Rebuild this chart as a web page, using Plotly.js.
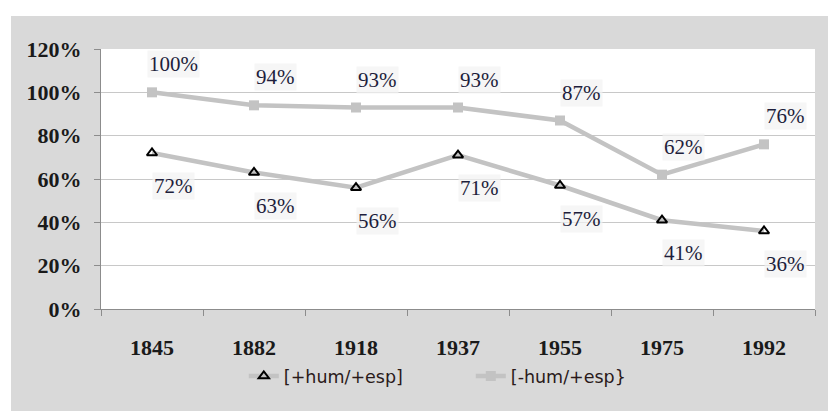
<!DOCTYPE html>
<html>
<head>
<meta charset="utf-8">
<script src="https://cdn.plot.ly/plotly-3.0.1.min.js"></script>
<style>
html, body { margin: 0; padding: 0; background: #ffffff; width: 828px; height: 411px; overflow: hidden; }
#chart { position: absolute; left: 11px; top: 16px; width: 817px; height: 395px; }
</style>
</head>
<body>
<div id="chart"></div>
<script>
const PCT = String.fromCharCode(37);
const years = ['1845', '1882', '1918', '1937', '1955', '1975', '1992'];
const plusHum = [72, 63, 56, 71, 57, 41, 36];
const minusHum = [100, 94, 93, 93, 87, 62, 76];
const seriesNames = ['[+hum/+esp]', '[-hum/+esp}'];
const yTicks = [0, 20, 40, 60, 80, 100, 120];

const lineGrey = '#c3c3c3';
const labelColor = '#1e1e3c';
const serif = '"Liberation Serif", "DejaVu Serif", serif';

const traces = [
  {
    x: years, y: plusHum, name: seriesNames[0], type: 'scatter', mode: 'lines+markers',
    line: { color: lineGrey, width: 4.5 },
    marker: { symbol: 'triangle-up-open', size: 9, color: '#000000', line: { color: '#000000', width: 2 } },
    hoverinfo: 'skip'
  },
  {
    x: years, y: minusHum, name: seriesNames[1], type: 'scatter', mode: 'lines+markers',
    line: { color: lineGrey, width: 4.5 },
    marker: { symbol: 'square', size: 10, color: lineGrey },
    hoverinfo: 'skip'
  }
];

const annotations = [];
years.forEach((yr, i) => {
  annotations.push({
    x: i, y: minusHum[i], xref: 'x', yref: 'y', text: String(minusHum[i]) + PCT, showarrow: false,
    xshift: 21, yshift: 28, font: { family: serif, size: 21, color: labelColor },
    bgcolor: 'rgba(242,242,242,0.7)'
  });
  annotations.push({
    x: i, y: plusHum[i], xref: 'x', yref: 'y', text: String(plusHum[i]) + PCT, showarrow: false,
    xshift: 21, yshift: -33, font: { family: serif, size: 21, color: labelColor },
    bgcolor: 'rgba(242,242,242,0.7)'
  });
});

const layout = {
  width: 817, height: 395,
  paper_bgcolor: '#d9d9d9',
  plot_bgcolor: '#ffffff',
  margin: { l: 90, r: 13, t: 33, b: 102 },
  showlegend: true,
  legend: {
    orientation: 'h', x: 0.2, xanchor: 'left', y: -0.258, yanchor: 'middle',
    font: { family: '"DejaVu Sans", sans-serif', size: 17.5, color: '#2a1a1a' },
    bgcolor: 'rgba(0,0,0,0)', entrywidth: 182
  },
  xaxis: {
    type: 'category', range: [-0.5, 6.5],
    showgrid: false, showline: true, linecolor: '#8c8c8c', linewidth: 1,
    ticks: 'outside', tickson: 'boundaries', ticklen: 6, tickcolor: '#8c8c8c',
    tickfont: { family: serif, size: 22, color: '#1a1a1a', weight: 'bold' },
    ticklabelstandoff: 19,
    fixedrange: true
  },
  yaxis: {
    range: [0, 120], tickmode: 'array', tickvals: yTicks, ticktext: yTicks.map(v => String(v) + PCT),
    showgrid: true, gridcolor: '#c8c8c8', gridwidth: 1,
    showline: true, linecolor: '#8c8c8c', linewidth: 1,
    ticks: 'outside', ticklen: 6, tickcolor: '#8c8c8c',
    tickfont: { family: serif, size: 22, color: '#1a1a1a', weight: 'bold' },
    ticklabelstandoff: 8,
    zeroline: false, fixedrange: true
  },
  annotations: annotations
};

Plotly.newPlot('chart', traces, layout, { displayModeBar: false, staticPlot: true });
</script>
</body>
</html>
